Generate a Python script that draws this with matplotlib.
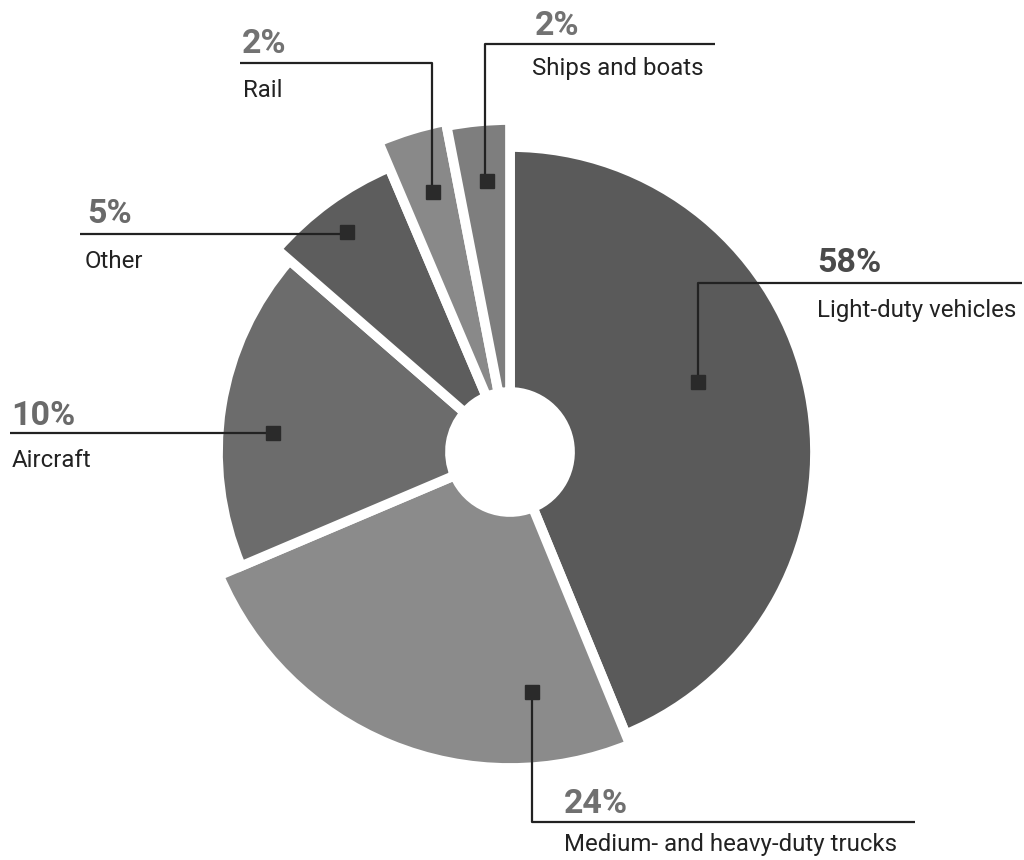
import matplotlib
matplotlib.use("Agg")
import matplotlib.pyplot as plt

# ---- data -------------------------------------------------------------
categories = ["Light-duty vehicles", "Medium- and heavy-duty trucks",
              "Aircraft", "Other", "Rail", "Ships and boats"]
percent_values = [58, 24, 10, 5, 2, 2]
# angular extent of each slice as drawn in the reference (degrees)
drawn_share = [157.7, 89.3, 64.0, 26.0, 12.0, 11.0]

# ---- style ------------------------------------------------------------
colors = ["#5a5a5a", "#8b8b8b", "#6c6c6c", "#5d5d5d", "#898989", "#7e7e7e"]
outer_r = [300, 311, 287, 304, 332, 327]
hole_r = 65
edge_lw = 7.0
pad = 5  # half the white stroke eats into the outer/inner radius

H = 860
def Y(y):
    return H - y

fig = plt.figure(figsize=(10.24, 8.6), dpi=100)
ax = fig.add_axes([0, 0, 1, 1])

cx, cy = 510, Y(452)
wedges, _ = ax.pie(drawn_share, startangle=90, counterclock=False,
                   center=(cx, cy), radius=300, colors=colors,
                   wedgeprops=dict(width=235, edgecolor="white",
                                   linewidth=edge_lw))
for w, r in zip(wedges, outer_r):
    w.set_radius(r + pad)
    w.set_width(r + pad - (hole_r - pad))

ax.set_xlim(0, 1024)
ax.set_ylim(0, H)
ax.set_aspect("equal")
ax.axis("off")

line_kw = dict(color="#222222", lw=1.6, solid_capstyle="butt", zorder=5)
mark_kw = dict(marker="s", markersize=10.5, color="#2a2a2a",
               linestyle="none", zorder=6)
pct_font = dict(family=["Roboto", "DejaVu Sans"], fontweight="bold",
                fontsize=24.5)
lab_font = dict(family=["Roboto", "DejaVu Sans"], fontweight="normal",
                fontsize=17.3, color="#222222")

# leader line paths (pixel coords), marker position, label anchors
callouts = [
    # Light-duty
    dict(path=[(698, 382), (698, 283), (1022, 283)], mark=(698, 382),
         pct=(817, 272), lab=(817, 317), pcol="#4a4a4a"),
    # Medium/heavy
    dict(path=[(532, 692), (532, 822), (915, 822)], mark=(532, 692),
         pct=(564, 813), lab=(564, 851), pcol="#707070"),
    # Aircraft
    dict(path=[(10, 433), (273, 433)], mark=(273, 433),
         pct=(11, 425), lab=(12, 467), pcol="#6a6a6a"),
    # Other
    dict(path=[(80, 234), (347, 234)], mark=(347, 232),
         pct=(87, 223), lab=(85, 268), pcol="#6a6a6a"),
    # Rail
    dict(path=[(240, 63), (432, 63), (432, 192)], mark=(433, 192),
         pct=(242, 53), lab=(243, 97), pcol="#727272"),
    # Ships
    dict(path=[(485, 182), (485, 44), (715, 44)], mark=(487, 181),
         pct=(535, 35), lab=(532, 75), pcol="#727272"),
]

for cat, pv, c in zip(categories, percent_values, callouts):
    xs = [p[0] for p in c["path"]]
    ys = [Y(p[1]) for p in c["path"]]
    ax.plot(xs, ys, **line_kw)
    ax.plot([c["mark"][0]], [Y(c["mark"][1])], **mark_kw)
    ax.text(c["pct"][0], Y(c["pct"][1]), f"{pv}%", color=c["pcol"],
            ha="left", va="baseline", **pct_font)
    ax.text(c["lab"][0], Y(c["lab"][1]), cat, ha="left", va="baseline",
            **lab_font)

fig.savefig("out.png", dpi=100, facecolor="white")
